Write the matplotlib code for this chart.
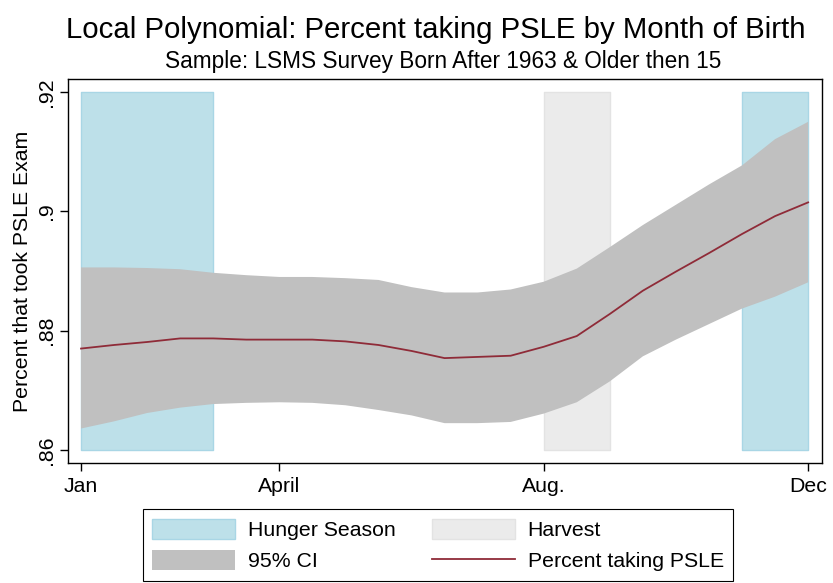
import matplotlib
matplotlib.use("Agg")
import matplotlib.pyplot as plt
import numpy as np
from matplotlib.patches import Patch
from matplotlib.lines import Line2D

plt.rcParams['font.family'] = ['Liberation Sans', 'DejaVu Sans']

# month of birth grid (1 = Jan, 12 = Dec)
months = [1, 1.5, 2, 2.5, 3, 3.5, 4, 4.5, 5, 5.5, 6, 6.5,
          7, 7.5, 8, 8.5, 9, 9.5, 10, 10.5, 11, 11.5, 12]
pct = [.8770, .8776, .8781, .8787, .8787, .8785, .8785, .8785, .8782, .8776, .8766, .8754,
       .8756, .8758, .8773, .8791, .8828, .8867, .8899, .8930, .8962, .8992, .9015]
ci_hi = [.8906, .8906, .8905, .8903, .8897, .8893, .8890, .8890, .8888, .8885, .8873, .8864,
         .8864, .8869, .8882, .8904, .8940, .8977, .9011, .9045, .9077, .9121, .9150]
ci_lo = [.8636, .8648, .8662, .8671, .8677, .8679, .8680, .8679, .8675, .8667, .8658, .8645,
         .8645, .8647, .8661, .8680, .8715, .8757, .8785, .8811, .8837, .8857, .8881]

hunger = [(1, 3), (11, 12)]
harvest = [(8, 9)]
band_lo, band_hi = .86, .92

tick_pos = [1, 4, 8, 12]
tick_lab = ["Jan", "April", "Aug.", "Dec"]
ytick_pos = [.86, .88, .90, .92]
ytick_lab = [".86", ".88", ".9", ".92"]

blue = "#bde0e9"
blue_edge = "#a9d6e5"
harv = "#ebebeb"
harv_edge = "#e3e3e3"
ci_col = "#c0c0c0"
line_col = "#8f2b38"
fs = 15.3

fig = plt.figure(figsize=(8.33, 5.83), dpi=100)
ax = fig.add_axes([68/833, 1 - 463/583, (822 - 68)/833, (463 - 79)/583])

for a, b in hunger:
    ax.fill_between([a, b], band_lo, band_hi, facecolor=blue, edgecolor=blue_edge, lw=1, zorder=1)
for a, b in harvest:
    ax.fill_between([a, b], band_lo, band_hi, facecolor=harv, edgecolor=harv_edge, lw=1, zorder=1)

ax.fill_between(months, ci_lo, ci_hi, facecolor=ci_col, edgecolor="none", zorder=2)
ax.plot(months, pct, color=line_col, lw=1.3, zorder=3)

ax.set_xlim(0.803, 12.21)
ax.set_ylim(.85782, .92218)
ax.set_xticks(tick_pos)
ax.set_xticklabels(tick_lab)
ax.set_yticks(ytick_pos)
ax.set_yticklabels(ytick_lab, rotation=90, va="center")
ax.tick_params(axis="both", direction="out", length=6, width=1, labelsize=fs, colors="black")
ax.tick_params(axis="x", pad=4)
ax.tick_params(axis="y", pad=3)
for s in ax.spines.values():
    s.set_linewidth(1)
ax.set_ylabel("Percent that took PSLE Exam", fontsize=fs, labelpad=3)

fig.text(436/833, 1 - 38/583, "Local Polynomial: Percent taking PSLE by Month of Birth",
         ha="center", va="baseline", fontsize=21.2)
fig.text(443/833, 1 - 68/583, "Sample: LSMS Survey Born After 1963 & Older then 15",
         ha="center", va="baseline", fontsize=16.3)

handles = [Patch(facecolor=blue, edgecolor=blue_edge),
           Patch(facecolor=ci_col, edgecolor="none"),
           Patch(facecolor=harv, edgecolor=harv_edge),
           Line2D([0], [0], color=line_col, lw=1.3)]
labels = ["Hunger Season", "95% CI", "Harvest", "Percent taking PSLE"]
leg = fig.legend(handles, labels, ncol=2, loc="lower center", bbox_to_anchor=(438/833, 2/583),
                 borderaxespad=0, fontsize=fs, frameon=True, fancybox=False, framealpha=1,
                 edgecolor="black", handlelength=3.9, handleheight=1.08, handletextpad=0.6,
                 columnspacing=1.7, labelspacing=0.47, borderpad=0.45)
leg.get_frame().set_linewidth(0.8)

fig.savefig("out.png", dpi=100)
